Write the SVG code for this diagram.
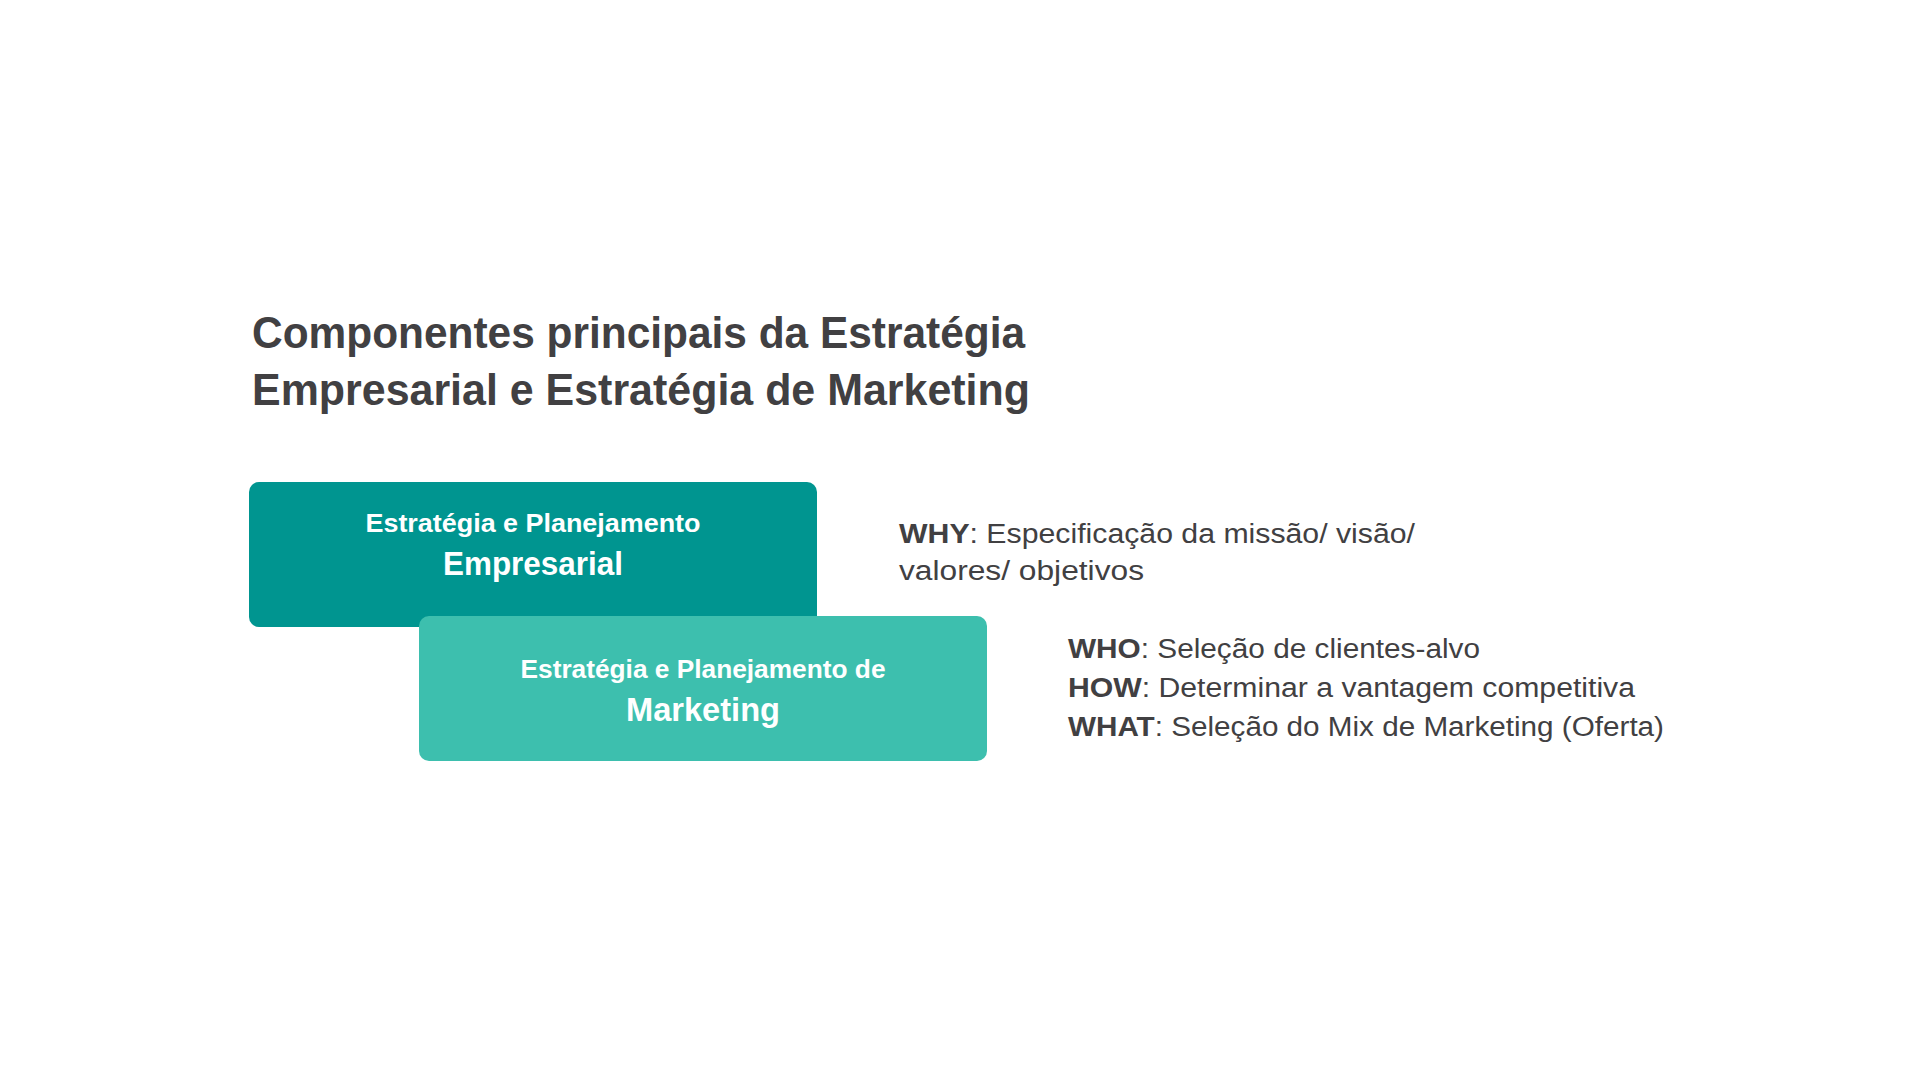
<svg xmlns="http://www.w3.org/2000/svg" width="1920" height="1081" viewBox="0 0 1920 1081">
<style>
.t{font-family:"Liberation Sans",Arial,sans-serif;fill:#414042}
.b{font-weight:bold}
.w{font-family:"Liberation Sans",Arial,sans-serif;fill:#ffffff;font-weight:bold;text-anchor:middle}
</style>
<rect width="1920" height="1081" fill="#ffffff"/>
<g id="title">
<text class="t b" x="252" y="348" font-size="44" textLength="773" lengthAdjust="spacingAndGlyphs">Componentes principais da Estratégia</text>
<text class="t b" x="252" y="405" font-size="44" textLength="778" lengthAdjust="spacingAndGlyphs">Empresarial e Estratégia de Marketing</text>
</g>
<g id="node-empresarial">
<rect x="249" y="482" width="568" height="145" rx="10" fill="#009590"/>
<text class="w" x="533" y="532" font-size="26" textLength="335" lengthAdjust="spacingAndGlyphs">Estratégia e Planejamento</text>
<text class="w" x="533" y="575" font-size="33" textLength="180" lengthAdjust="spacingAndGlyphs">Empresarial</text>
</g>
<g id="node-marketing">
<rect x="419" y="616" width="568" height="145" rx="10" fill="#3DBFAE"/>
<text class="w" x="703" y="678" font-size="26" textLength="365" lengthAdjust="spacingAndGlyphs">Estratégia e Planejamento de</text>
<text class="w" x="703" y="721" font-size="33" textLength="154" lengthAdjust="spacingAndGlyphs">Marketing</text>
</g>
<g id="why-text">
<text class="t" x="899" y="543" font-size="27" textLength="516" lengthAdjust="spacingAndGlyphs"><tspan class="b">WHY</tspan>: Especificação da missão/ visão/</text>
<text class="t" x="899" y="580" font-size="27" textLength="245" lengthAdjust="spacingAndGlyphs">valores/ objetivos</text>
</g>
<g id="marketing-text">
<text class="t" x="1068" y="658" font-size="27" textLength="412" lengthAdjust="spacingAndGlyphs"><tspan class="b">WHO</tspan>: Seleção de clientes-alvo</text>
<text class="t" x="1068" y="697" font-size="27" textLength="567" lengthAdjust="spacingAndGlyphs"><tspan class="b">HOW</tspan>: Determinar a vantagem competitiva</text>
<text class="t" x="1068" y="736" font-size="27" textLength="596" lengthAdjust="spacingAndGlyphs"><tspan class="b">WHAT</tspan>: Seleção do Mix de Marketing (Oferta)</text>
</g>
<g id="connectors"/>
</svg>
